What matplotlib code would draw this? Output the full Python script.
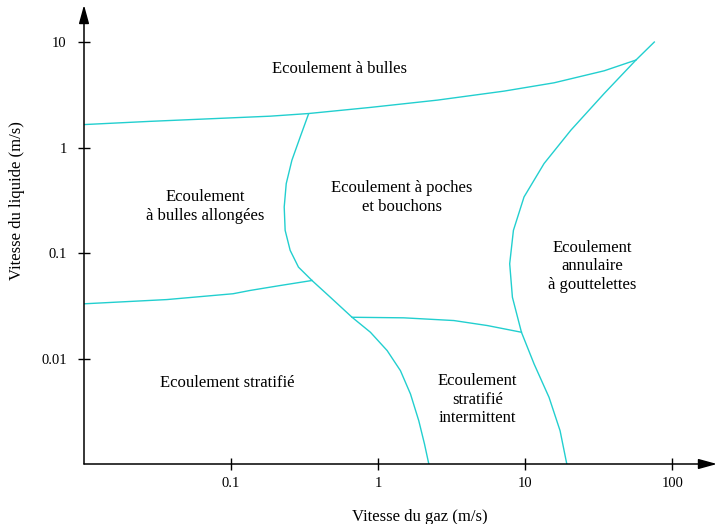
import numpy as np
import matplotlib
matplotlib.use('Agg')
import matplotlib.pyplot as plt
from matplotlib.ticker import FixedLocator, FixedFormatter, NullLocator

plt.rcParams['font.family'] = ['Liberation Serif', 'DejaVu Serif']

# flow regime boundaries (gas velocity, liquid velocity) in m/s
bulles_x = [0.01, 0.0281, 0.1843, 0.336, 0.885, 2.519, 7.16, 15.69, 34.4, 56.5]
bulles_y = [1.65, 1.77, 1.982, 2.10, 2.40, 2.813, 3.424, 4.107, 5.34, 6.75]

annulaire_x = [75.3, 56.5, 34.4, 20.4, 13.41, 9.80, 8.30, 7.83, 8.17, 9.41, 11.47, 14.50, 17.23, 19.14]
annulaire_y = [10.0, 6.75, 3.257, 1.460, 0.705, 0.340, 0.164, 0.0791, 0.0381, 0.01774, 0.00888, 0.00428,
               0.002067, 0.001]

poches_x = [0.336, 0.295, 0.259, 0.237, 0.2296, 0.233, 0.252, 0.287, 0.3546, 0.4725, 0.664, 0.885, 1.150,
            1.416, 1.657, 1.887, 2.064, 2.208]
poches_y = [2.08, 1.261, 0.758, 0.455, 0.273, 0.164, 0.106, 0.0735, 0.0549, 0.0381, 0.0246, 0.01774, 0.01189,
            0.00767, 0.00461, 0.00257, 0.001545, 0.001]

strat_x = [0.01, 0.0366, 0.103, 0.135, 0.2158, 0.3546]
strat_y = [0.033, 0.0362, 0.0411, 0.0442, 0.0492, 0.0549]

interm_x = [0.664, 1.492, 3.268, 5.52, 9.41]
interm_y = [0.0246, 0.0243, 0.0229, 0.02053, 0.01774]

labels = ["Ecoulement à bulles", "Ecoulement\nà bulles allongées", "Ecoulement à poches\net bouchons",
          "Ecoulement\nannulaire\nà gouttelettes", "Ecoulement stratifié", "Ecoulement\nstratifié\nintermittent"]
label_x = [0.542, 0.0665, 1.455, 28.6, 0.094, 4.72]
label_y = [5.54, 0.277, 0.337, 0.0746, 0.0059, 0.00407]

xticks = [0.1, 1, 10, 100]
xticklabels = ['0.1', '1', '10', '100']
yticks = [0.01, 0.1, 1, 10]
yticklabels = ['0.01', '0.1', '1', '10']

fig = plt.figure(figsize=(7.17, 5.24), dpi=100)
ax = fig.add_axes([84 / 717, 60 / 524, 633 / 717, 459 / 524])
ax.set_xscale('log')
ax.set_yscale('log')
ax.set_xlim(0.01, 10 ** 2.303)
ax.set_ylim(0.001, 10 ** 1.351)

col = '#22cfcf'
for xs, ys in [(bulles_x, bulles_y), (annulaire_x, annulaire_y), (poches_x, poches_y),
               (strat_x, strat_y), (interm_x, interm_y)]:
    ax.plot(xs, ys, color=col, lw=1.0)

for t, x, y in zip(labels, label_x, label_y):
    ax.text(x, y, t, ha='center', va='center', fontsize=12, linespacing=1.2)

for s in ['top', 'right', 'left', 'bottom']:
    ax.spines[s].set_visible(False)
arr = dict(arrowstyle='-|>,head_length=0.8,head_width=0.22', color='k', lw=1.1, mutation_scale=14,
           shrinkA=0, shrinkB=0)
ax.annotate('', xy=(0, 1), xytext=(0, 0), xycoords='axes fraction', arrowprops=arr)
ax.annotate('', xy=(1, 0), xytext=(0, 0), xycoords='axes fraction', arrowprops=arr)

ax.xaxis.set_major_locator(FixedLocator(xticks))
ax.xaxis.set_major_formatter(FixedFormatter(xticklabels))
ax.yaxis.set_major_locator(FixedLocator(yticks))
ax.yaxis.set_major_formatter(FixedFormatter(yticklabels))
ax.xaxis.set_minor_locator(NullLocator())
ax.yaxis.set_minor_locator(NullLocator())
ax.tick_params(direction='inout', length=9, width=1, labelsize=10.5)
ax.tick_params(axis='y', pad=8)
ax.tick_params(axis='x', pad=5)

ax.set_xlabel('Vitesse du gaz (m/s)', fontsize=12)
ax.set_ylabel('Vitesse du liquide (m/s)', fontsize=12)
ax.xaxis.set_label_coords(0.53, -0.098)
ax.yaxis.set_label_coords(-0.093, 0.573)

fig.savefig('out.png', dpi=100)
